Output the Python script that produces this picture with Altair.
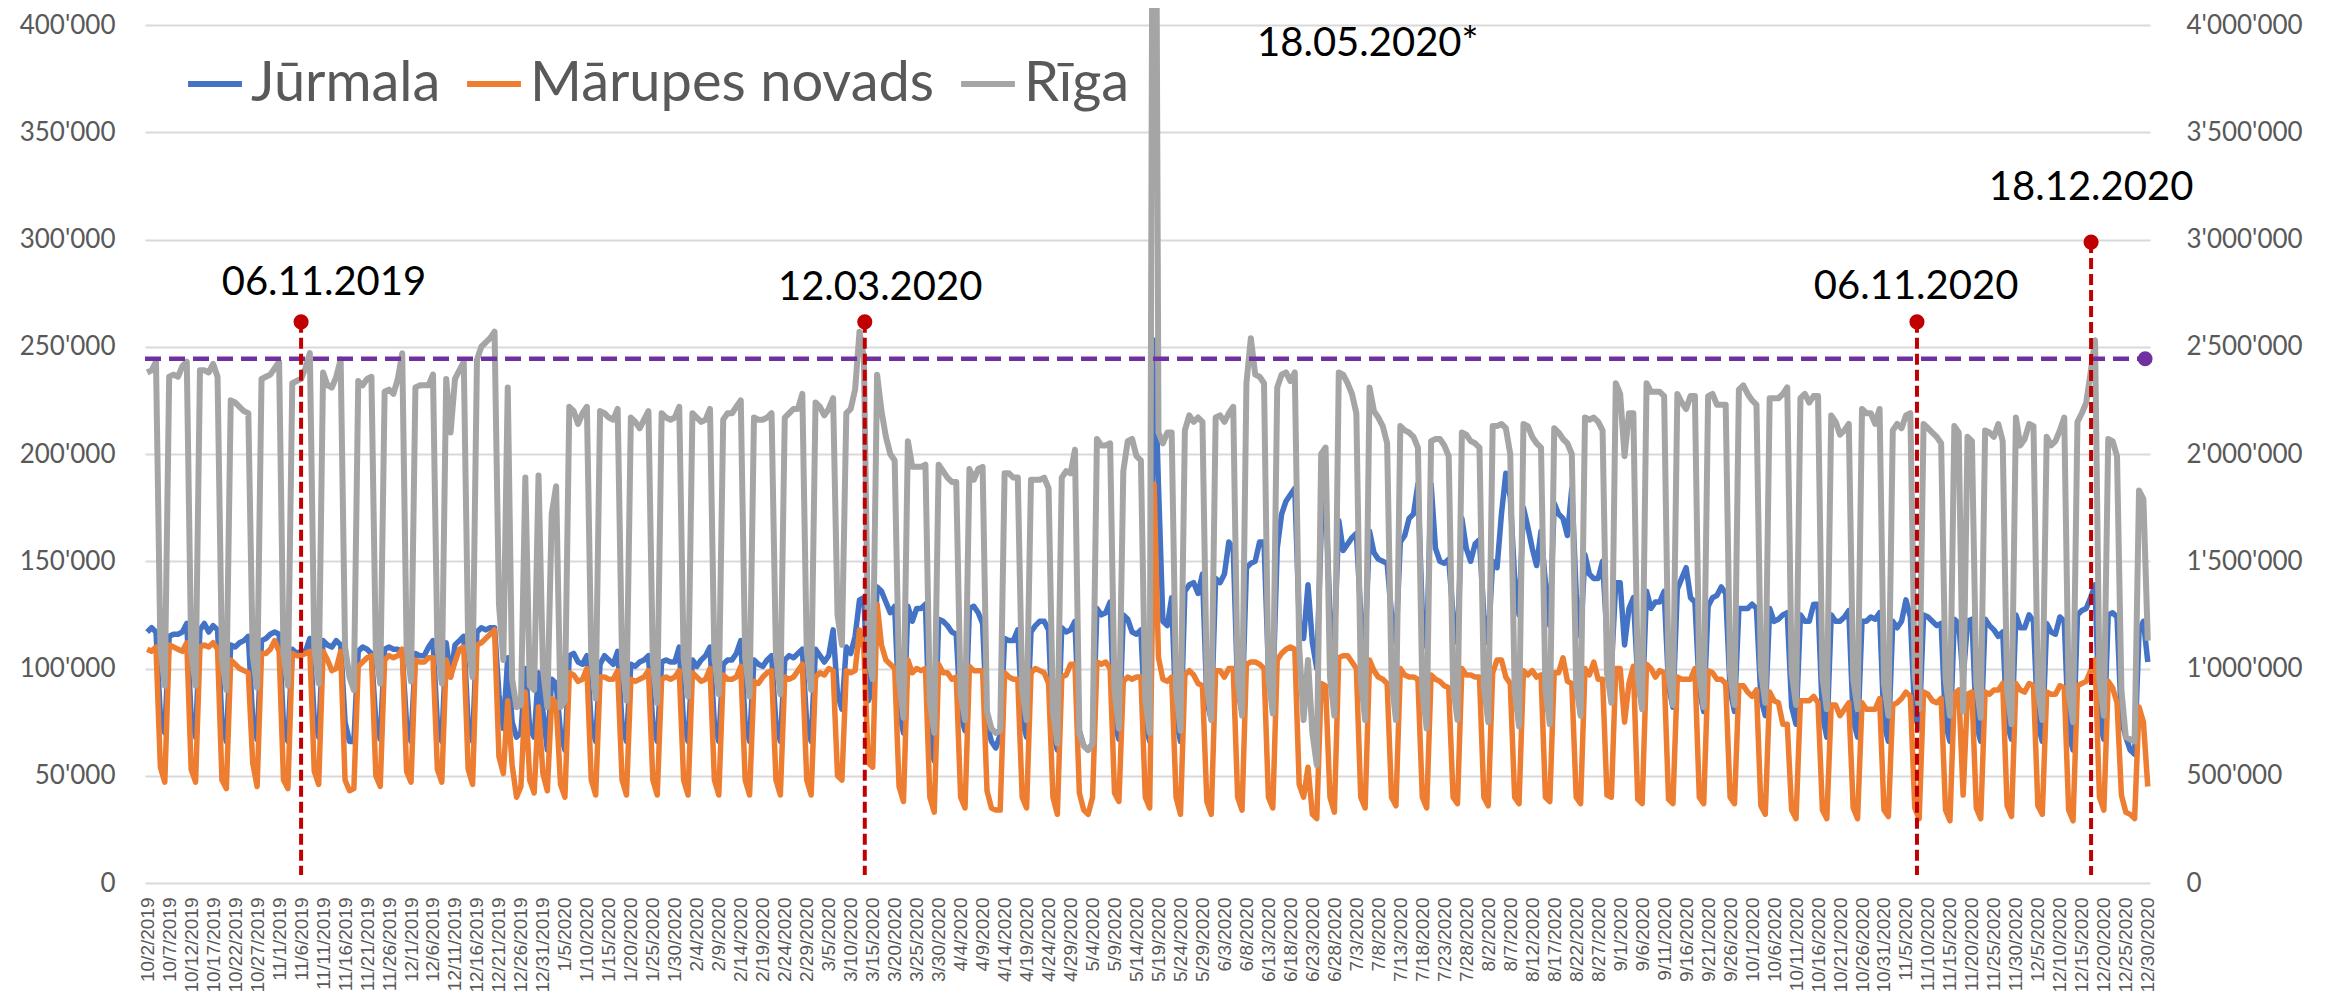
import altair as alt
import pandas as pd

# ---------------- data (daily, 2 Oct 2019 .. 30 Dec 2020) ----------------
START_DATE = "2019-10-02"

# Jūrmala, thousands (left axis)
JURMALA_K = [
    117, 119, 117, 78, 70,
    115, 116, 116, 117, 121, 77, 68,
    118, 121, 117, 120, 118, 75, 66,
    111, 110, 112, 113, 115, 76, 67,
    113, 114, 116, 117, 116, 74, 66,
    109, 107, 108, 108, 114, 76, 68,
    113, 111, 110, 113, 111, 75, 66,
    66, 108, 110, 109, 107, 75, 67,
    109, 110, 109, 109, 107, 74, 66,
    107, 106, 106, 110, 113, 74, 66,
    112, 96, 111, 113, 115, 74, 66,
    117, 119, 118, 119, 119, 88, 72,
    105, 75, 68, 70, 100, 72, 68,
    98, 80, 62, 95, 93, 70, 62,
    106, 107, 103, 102, 106, 74, 66,
    102, 106, 104, 102, 108, 74, 66,
    102, 101, 103, 104, 106, 74, 66,
    103, 104, 103, 103, 110, 74, 66,
    104, 101, 104, 106, 110, 74, 66,
    102, 104, 104, 107, 113, 74, 66,
    104, 102, 101, 104, 106, 74, 66,
    104, 106, 105, 107, 109, 74, 66,
    109, 106, 103, 106, 118, 88, 81,
    110, 107, 115, 132, 133, 85, 90,
    138, 136, 131, 126, 129, 80, 70,
    129, 122, 128, 128, 130, 66, 57,
    123, 122, 120, 117, 116, 78, 71,
    128, 129, 126, 121, 74, 66, 63,
    69, 114, 113, 113, 118, 76, 68,
    117, 120, 122, 122, 118, 70, 62,
    119, 117, 118, 122, 71, 64, 62,
    65, 128, 125, 126, 131, 74, 67,
    125, 123, 117, 116, 118, 74, 66,
    253, 185, 122, 120, 133, 76, 66,
    136, 139, 140, 135, 144, 85, 76,
    142, 140, 144, 159, 156, 90, 80,
    147, 149, 150, 159, 159, 100, 88,
    156, 172, 178, 181, 184, 122, 114,
    139, 112, 100, 165, 182, 125, 112,
    169, 155, 158, 161, 163, 125, 112,
    164, 154, 151, 150, 149, 125, 112,
    159, 162, 170, 172, 186, 125, 110,
    186, 156, 150, 149, 151, 125, 112,
    170, 156, 150, 158, 160, 125, 112,
    150, 147, 172, 191, 180, 142, 125,
    175, 166, 156, 148, 164, 140, 120,
    177, 172, 170, 162, 184, 135, 115,
    153, 144, 142, 142, 150, 115, 100,
    140, 140, 111, 128, 133, 95, 82,
    136, 128, 131, 131, 136, 92, 82,
    137, 142, 147, 133, 131, 90, 80,
    129, 133, 134, 138, 135, 90, 80,
    128, 128, 128, 130, 128, 86, 78,
    128, 122, 123, 125, 126, 82, 74,
    125, 122, 122, 130, 130, 78, 68,
    125, 122, 122, 124, 127, 76, 68,
    122, 122, 124, 123, 126, 74, 66,
    122, 119, 122, 132, 124, 78, 72,
    125, 124, 122, 120, 121, 74, 66,
    123, 121, 95, 122, 123, 74, 66,
    123, 120, 118, 115, 117, 74, 67,
    125, 119, 119, 125, 122, 74, 66,
    121, 117, 116, 124, 122, 70, 62,
    125, 127, 128, 133, 139, 75, 67,
    125, 126, 124, 76, 68, 62, 60,
    117, 122, 103,
]

# Mārupes novads, thousands (left axis)
MARUPE_K = [
    109, 108, 110, 54, 47,
    111, 110, 109, 108, 112, 53, 47,
    110, 111, 110, 112, 109, 48, 44,
    104, 102, 100, 99, 98, 56, 45,
    107, 107, 109, 113, 108, 48, 44,
    107, 106, 106, 107, 108, 52, 46,
    108, 104, 99, 100, 108, 48, 43,
    44, 101, 103, 105, 106, 50, 45,
    104, 106, 105, 106, 109, 52, 47,
    104, 103, 103, 105, 105, 53, 47,
    104, 96, 103, 109, 110, 53, 46,
    111, 112, 114, 116, 118, 59, 51,
    85, 55, 40, 45, 89, 48, 42,
    82, 51, 43, 86, 84, 46, 40,
    98, 97, 94, 95, 100, 48, 41,
    96, 96, 95, 95, 99, 48, 41,
    95, 94, 95, 96, 99, 48, 41,
    95, 96, 95, 96, 99, 48, 41,
    98, 96, 94, 95, 100, 48, 41,
    97, 95, 95, 96, 101, 48, 41,
    94, 93, 96, 98, 99, 48, 41,
    96, 95, 96, 99, 102, 48, 41,
    96, 98, 97, 100, 99, 50, 48,
    99, 98, 99, 118, 109, 56, 54,
    130, 111, 104, 102, 100, 45, 38,
    104, 98, 100, 99, 100, 40, 33,
    102, 98, 98, 95, 96, 40, 35,
    101, 99, 99, 99, 43, 35, 34,
    34, 98, 96, 95, 95, 40, 35,
    98, 100, 99, 98, 93, 40, 32,
    96, 97, 102, 102, 42, 34, 32,
    40, 103, 102, 103, 100, 42, 38,
    94, 96, 95, 96, 96, 40, 35,
    186, 105, 95, 94, 96, 40, 32,
    97, 99, 97, 93, 92, 38, 32,
    99, 99, 96, 100, 100, 40, 34,
    102, 103, 103, 102, 100, 40, 35,
    104, 107, 109, 110, 109, 46, 40,
    54, 32, 30, 93, 92, 40, 33,
    105, 106, 106, 103, 100, 40, 35,
    104, 99, 96, 95, 93, 40, 36,
    100, 97, 96, 96, 95, 40, 35,
    97, 95, 94, 92, 91, 40, 37,
    100, 97, 97, 96, 96, 40, 36,
    98, 104, 104, 96, 93, 40, 37,
    99, 97, 99, 96, 97, 40, 38,
    98, 98, 105, 94, 93, 40, 37,
    100, 97, 103, 95, 95, 41, 40,
    100, 100, 75, 93, 101, 39, 37,
    102, 100, 96, 99, 98, 39, 37,
    96, 95, 95, 95, 100, 40, 37,
    99, 98, 95, 95, 93, 40, 37,
    92, 92, 89, 87, 90, 36, 32,
    89, 85, 84, 74, 74, 34, 30,
    85, 85, 85, 87, 84, 34, 30,
    83, 83, 78, 81, 84, 35, 30,
    84, 81, 81, 81, 86, 34, 31,
    83, 84, 86, 89, 87, 35, 30,
    89, 88, 85, 84, 86, 34, 29,
    88, 90, 41, 88, 89, 35, 30,
    89, 88, 90, 90, 93, 36, 31,
    93, 90, 89, 93, 92, 36, 32,
    89, 88, 88, 92, 91, 34, 29,
    92, 93, 94, 99, 104, 40, 34,
    94, 91, 84, 41, 33, 32, 30,
    82, 75, 45,
]

# Rīga, thousands (right axis)
RIGA_K = [
    2380, 2390, 2430, 1100, 920,
    2360, 2370, 2360, 2410, 2430, 1080, 920,
    2390, 2390, 2380, 2420, 2360, 1050, 900,
    2250, 2240, 2220, 2200, 2190, 1060, 910,
    2350, 2360, 2370, 2400, 2430, 1070, 920,
    2330, 2340, 2350, 2400, 2470, 1100, 930,
    2380, 2320, 2310, 2360, 2440, 1100, 960,
    900, 2340, 2320, 2350, 2360, 1080, 930,
    2290, 2300, 2280, 2350, 2470, 1100, 940,
    2310, 2320, 2320, 2320, 2370, 1100, 930,
    2350, 2100, 2350, 2390, 2430, 1120, 960,
    2440, 2500, 2520, 2540, 2570, 1300, 1040,
    2310, 950, 820, 830, 1890, 920, 900,
    1900, 1000, 820, 1720, 1850, 820, 850,
    2220, 2200, 2140, 2190, 2220, 1050, 860,
    2200, 2190, 2170, 2160, 2210, 1030, 850,
    2170, 2150, 2120, 2160, 2200, 1030, 840,
    2190, 2170, 2160, 2170, 2220, 1050, 870,
    2190, 2170, 2150, 2160, 2210, 1050, 880,
    2160, 2190, 2190, 2220, 2250, 1050, 870,
    2170, 2160, 2160, 2170, 2190, 1060, 880,
    2170, 2190, 2210, 2210, 2280, 1080, 900,
    2240, 2220, 2180, 2210, 2260, 1250, 1110,
    2190, 2210, 2300, 2570, 2450, 1050, 950,
    2370, 2200, 2080, 2000, 1970, 950, 770,
    2060, 1940, 1940, 1940, 1950, 850, 700,
    1950, 1920, 1890, 1870, 1870, 880, 760,
    1930, 1880, 1930, 1940, 800, 720, 700,
    710, 1910, 1910, 1890, 1890, 900, 760,
    1880, 1880, 1880, 1890, 1840, 800, 650,
    1890, 1920, 1910, 2020, 700, 640, 620,
    650, 2070, 2040, 2040, 2050, 900, 720,
    1920, 2060, 2070, 1990, 1970, 850, 700,
    7000, 2100, 2050, 2100, 2100, 900, 710,
    2110, 2180, 2150, 2170, 2150, 920, 760,
    2170, 2180, 2150, 2190, 2220, 950, 780,
    2330, 2540, 2370, 2360, 2330, 960, 790,
    2310, 2370, 2380, 2340, 2380, 1100, 760,
    1040, 700, 550, 2000, 2030, 960, 780,
    2380, 2370, 2330, 2280, 2190, 950, 760,
    2310, 2200, 2170, 2130, 2050, 950, 760,
    2130, 2110, 2100, 2080, 2030, 900, 720,
    2060, 2070, 2070, 2040, 1990, 920, 760,
    2100, 2090, 2060, 2050, 2030, 920, 750,
    2130, 2130, 2140, 2120, 2000, 900, 730,
    2140, 2130, 2080, 2050, 2030, 900, 740,
    2120, 2100, 2070, 2050, 2000, 920, 780,
    2170, 2160, 2170, 2150, 2110, 980, 840,
    2330, 2280, 1990, 2190, 2190, 960, 810,
    2330, 2290, 2290, 2290, 2270, 980, 830,
    2280, 2240, 2210, 2270, 2270, 970, 820,
    2270, 2280, 2230, 2230, 2230, 980, 830,
    2300, 2320, 2280, 2250, 2230, 990, 840,
    2260, 2260, 2260, 2280, 2310, 980, 830,
    2260, 2280, 2240, 2270, 2270, 960, 810,
    2180, 2150, 2090, 2110, 2140, 950, 810,
    2210, 2190, 2190, 2140, 2210, 930, 780,
    2110, 2140, 2120, 2180, 2190, 960, 810,
    2140, 2120, 2100, 2080, 2050, 950, 780,
    2130, 2100, 800, 2080, 2060, 930, 770,
    2110, 2100, 2080, 2140, 2060, 900, 740,
    2170, 2040, 2070, 2140, 2130, 900, 760,
    2080, 2040, 2060, 2110, 2170, 890, 750,
    2150, 2190, 2240, 2380, 2530, 950, 780,
    2070, 2060, 1990, 900, 680, 670, 660,
    1830, 1790, 1130,
]

SERIES = ["Jūrmala", "Mārupes novads", "Rīga"]
COLORS = ["#4472C4", "#ED7D31", "#A5A5A5"]

# annotations (x in days since start, y in left-axis units)
MARK_LABELS = ["06.11.2019", "12.03.2020", "06.11.2020", "18.12.2020"]
MARK_POS = [35.0, 163.2, 402.5, 442.1]
MARK_TOP = [261600, 261600, 261600, 298800]
MARK_TEXT_POS = [40.2, 166.7, 402.3, 442.1]
MARK_TEXT_Y = [274100, 271800, 272200, 318200]
NOTE_TEXT = "18.05.2020*"
NOTE_POS = 277.6
NOTE_Y = 385600
REF_LEVEL = 244400
REF_END = 454.4

# ---------------- build tables ----------------
N = len(RIGA_K)
dates = pd.date_range(START_DATE, periods=N, freq="D")
tick_pos = list(range(0, N, 5))
tick_labels = [f"{dates[i].month}/{dates[i].day}/{dates[i].year}" for i in tick_pos]

left_df = pd.DataFrame({
    "idx": list(range(N)) * 2,
    "series": [SERIES[0]] * N + [SERIES[1]] * N,
    "value": [v * 1000 for v in JURMALA_K] + [v * 1000 for v in MARUPE_K],
})
right_df = pd.DataFrame({
    "idx": list(range(N)),
    "series": [SERIES[2]] * N,
    "value": [v * 1000 for v in RIGA_K],
})
marks_df = pd.DataFrame({
    "pos": MARK_POS, "top": MARK_TOP, "bottom": [3700] * 4,
    "label": MARK_LABELS, "tpos": MARK_TEXT_POS, "ty": MARK_TEXT_Y,
})
note_df = pd.DataFrame({"tpos": [NOTE_POS], "ty": [NOTE_Y], "label": [NOTE_TEXT]})
ref_df = pd.DataFrame({"x0": [-0.5], "x1": [REF_END], "level": [REF_LEVEL]})

# ---------------- encodings ----------------
label_array = "[" + ",".join(f"'{t}'" for t in tick_labels) + "]"
x_axis = alt.Axis(
    values=tick_pos, labelExpr=f"{label_array}[round(datum.value/5)]",
    labelAngle=-90, labelFont="Liberation Sans", labelFontSize=19,
    labelColor="#595959", labelPadding=14, labelOverlap=False, labelFlush=False,
    grid=False, domain=False, ticks=False, tickSize=0, title=None, labelLimit=300,
)
x_scale = alt.Scale(domain=[-0.5, N - 0.5], nice=False, zero=False)


def X(field):
    return alt.X(f"{field}:Q", scale=x_scale, axis=x_axis)


fmt = "replace(replace(format(datum.value, ','), ',', \"'\"), ',', \"'\")"
left_scale = alt.Scale(domain=[0, 400000], nice=False)
left_axis = alt.Axis(
    orient="left", values=list(range(0, 400001, 50000)), labelExpr=fmt,
    labelFont="Lato", labelFontSize=26, labelColor="#595959", labelPadding=30,
    grid=True, gridColor="#D9D9D9", gridWidth=2, domain=False, ticks=False,
    tickSize=0, title=None,
)
right_axis = alt.Axis(
    orient="right", values=list(range(0, 4000001, 500000)), labelExpr=fmt,
    labelFont="Lato", labelFontSize=26, labelColor="#595959", labelPadding=36,
    grid=False, domain=False, ticks=False, tickSize=0, title=None,
)

legend = alt.Legend(
    orient="none", legendX=40, legendY=29, direction="horizontal", columns=3,
    title=None, symbolType="stroke", symbolSize=2900, symbolStrokeWidth=6,
    labelFont="Lato", labelFontSize=56, labelColor="#595959", labelOffset=6,
    columnPadding=14, padding=0, labelLimit=1000,
)
color = alt.Color("series:N", scale=alt.Scale(domain=SERIES, range=COLORS), legend=legend)

left_lines = alt.Chart(left_df).mark_line(strokeWidth=5.5, strokeJoin="round").encode(
    x=X("idx"), y=alt.Y("value:Q", scale=left_scale, axis=left_axis), color=color,
    detail="series:N",
)
right_line = alt.Chart(right_df).mark_line(strokeWidth=6, strokeJoin="round", clip=False).encode(
    x=X("idx"),
    y=alt.Y("value:Q", scale=alt.Scale(domain=[0, 4000000], nice=False), axis=right_axis),
    color=color,
)

ann_y = lambda f: alt.Y(f"{f}:Q", scale=left_scale, axis=None)

red_rules = alt.Chart(marks_df).mark_rule(color="#C00000", strokeWidth=4, strokeDash=[11, 5]).encode(
    x=X("pos"), y=ann_y("top"), y2="bottom:Q"
)
red_dots = alt.Chart(marks_df).mark_circle(color="#C00000", size=230, opacity=1).encode(
    x=X("pos"), y=ann_y("top")
)
red_text = alt.Chart(marks_df).mark_text(
    font="Lato", fontSize=40, color="#000000", baseline="alphabetic", align="center"
).encode(x=X("tpos"), y=ann_y("ty"), text="label:N")
note_text = alt.Chart(note_df).mark_text(
    font="Lato", fontSize=40, color="#000000", baseline="alphabetic", align="center"
).encode(x=X("tpos"), y=ann_y("ty"), text="label:N")
ref_rule = alt.Chart(ref_df).mark_rule(color="#7030A0", strokeWidth=4.5, strokeDash=[16, 8]).encode(
    x=X("x0"), x2="x1:Q", y=ann_y("level")
)
ref_dot = alt.Chart(ref_df).mark_circle(color="#7030A0", size=220, opacity=1).encode(
    x=X("x1"), y=ann_y("level")
)

chart = alt.layer(
    left_lines, right_line, ref_rule, ref_dot, red_rules, red_dots, red_text, note_text
).resolve_scale(y="independent").properties(
    width=2005, height=858,
    autosize=alt.AutoSizeParams(type="none"),
    padding={"left": 137, "top": 17, "right": 180, "bottom": 120},
    background="white",
).configure_view(stroke=None)

chart.save("out.html", embed_options={"renderer": "svg", "actions": False})
